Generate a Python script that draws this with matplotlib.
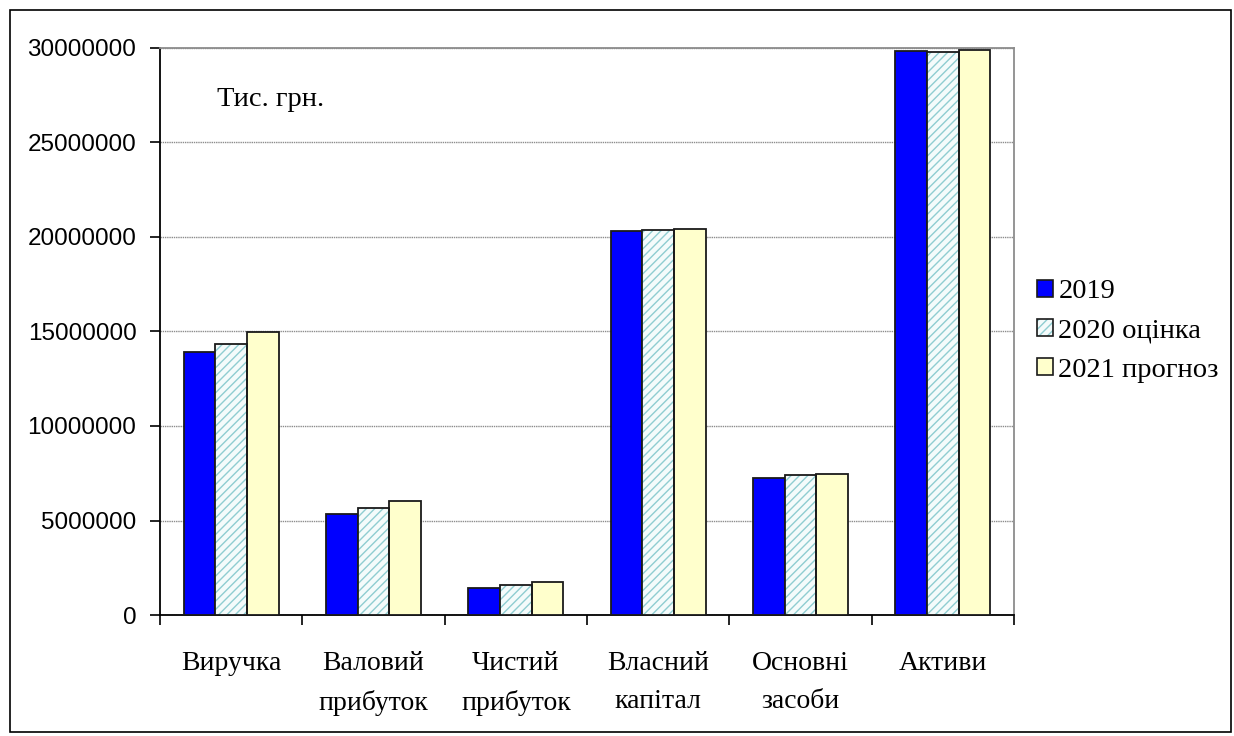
import numpy as np
import matplotlib
matplotlib.use("Agg")
import matplotlib.pyplot as plt
from matplotlib.patches import Rectangle, Patch
from matplotlib.legend_handler import HandlerTuple

categories = ["Виручка", "Валовий\nприбуток", "Чистий\nприбуток",
              "Власний\nкапітал", "Основні\nзасоби", "Активи"]
series_names = ["2019", "2020 оцінка", "2021 прогноз"]
values_2019 = [13900000, 5360000, 1430000, 20330000, 7250000, 29840000]
values_2020 = [14320000, 5680000, 1600000, 20390000, 7420000, 29800000]
values_2021 = [14950000, 6050000, 1750000, 20400000, 7480000, 29880000]
y_ticks = [0, 5000000, 10000000, 15000000, 20000000, 25000000, 30000000]

plt.rcParams["hatch.linewidth"] = 1.0

fig = plt.figure(figsize=(12.34, 7.36), dpi=100)
fig.patch.set_facecolor("white")
fig.add_artist(Rectangle((10 / 1234, 4 / 736), 1221 / 1234, 722 / 736,
                         transform=fig.transFigure, fill=False,
                         edgecolor="black", linewidth=1.2))

ax = fig.add_axes([160 / 1234, 1 - 615 / 736, 854 / 1234, 567 / 736])

x = np.arange(len(categories))
w = 0.222
offsets = [-w, 0, w]
edge = "#1a1a1a"
hatch_fill = "#f4fbfb"
hatch_col = "#8fcdd1"
hatch_pat = "////"

ax.bar(x + offsets[0], values_2019, w, color="#0000ff", edgecolor=edge,
       linewidth=1.3, zorder=3)
# patterned series: hatch layer first, outline on top
ax.bar(x + offsets[1], values_2020, w, color=hatch_fill, edgecolor=hatch_col,
       hatch=hatch_pat, linewidth=0, zorder=3)
ax.bar(x + offsets[1], values_2020, w, fill=False, edgecolor=edge,
       linewidth=1.3, zorder=4)
ax.bar(x + offsets[2], values_2021, w, color="#ffffcc", edgecolor=edge,
       linewidth=1.3, zorder=3)

ax.set_xlim(-0.5, len(categories) - 0.5)
ax.set_ylim(0, 30000000)
ax.set_yticks(y_ticks)
ax.set_yticklabels([str(v) for v in y_ticks], fontfamily="Liberation Sans",
                   fontsize=17.5)
ax.yaxis.grid(True, color="#8c8c8c", linewidth=1.0, linestyle=(0, (1, 0.6)),
              zorder=0)
ax.set_axisbelow(True)

ax.set_xticks(np.arange(-0.5, len(categories), 1.0))
ax.set_xticklabels([])
ax.set_xticks(x, minor=True)
ax.set_xticklabels(categories, minor=True, fontfamily="Liberation Serif",
                   fontsize=20, linespacing=1.7)
ax.tick_params(axis="x", which="minor", length=0, pad=26)
ax.tick_params(axis="x", which="major", length=7, width=1.2, direction="out")
ax.tick_params(axis="y", length=7, width=1.2, direction="out", pad=10)

for side in ("left", "bottom"):
    ax.spines[side].set_color("black")
    ax.spines[side].set_linewidth(1.3)
for side in ("top", "right"):
    ax.spines[side].set_color("#8c8c8c")
    ax.spines[side].set_linewidth(1.3)

fig.text(217 / 1234, 1 - 100 / 736, "Тис. грн.",
         fontfamily="Liberation Serif", fontsize=20.5, va="center", ha="left")

handles = [
    Patch(facecolor="#0000ff", edgecolor=edge, linewidth=1.2),
    (Patch(facecolor=hatch_fill, edgecolor=hatch_col, hatch=hatch_pat,
           linewidth=0),
     Patch(fill=False, edgecolor=edge, linewidth=1.2)),
    Patch(facecolor="#ffffcc", edgecolor=edge, linewidth=1.2),
]
leg = fig.legend(handles, series_names, loc="center left",
                 bbox_to_anchor=(1037 / 1234, 1 - 331 / 736), frameon=False,
                 prop={"family": "Liberation Serif", "size": 20.5},
                 handlelength=0.55, handleheight=0.55, handletextpad=0.2,
                 labelspacing=0.5, borderpad=0, borderaxespad=0,
                 handler_map={tuple: HandlerTuple(ndivide=1, pad=0)})

fig.savefig("out.png", dpi=100, facecolor="white")
